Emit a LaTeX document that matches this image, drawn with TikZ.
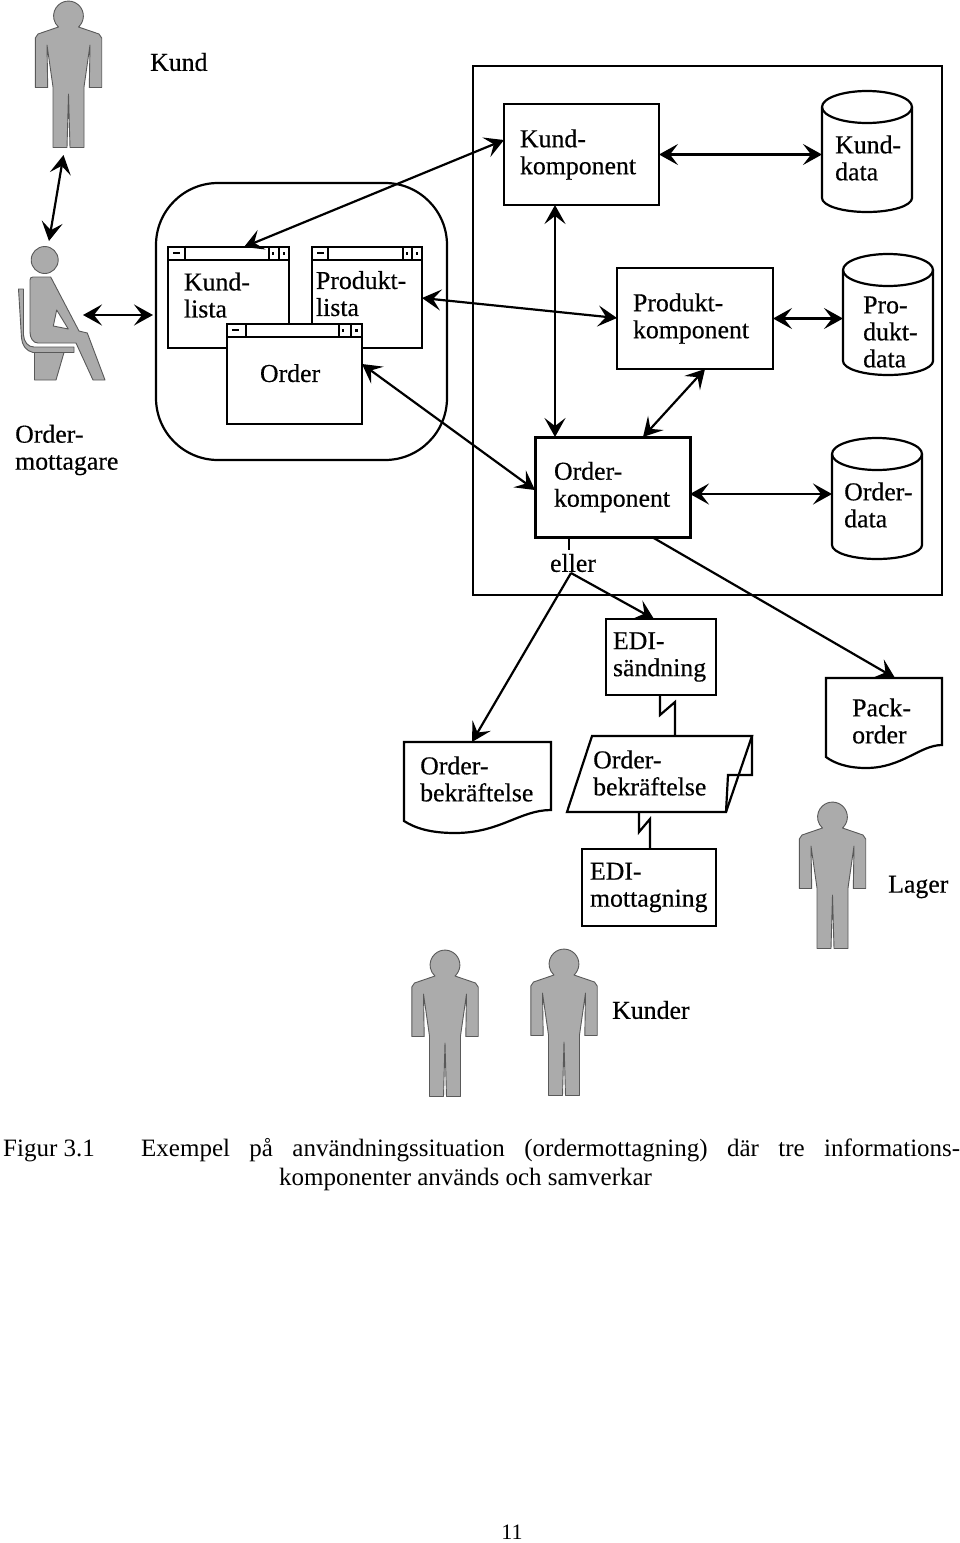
\documentclass[tikz,border=0pt]{standalone}
\usepackage{fontspec}
\setmainfont{Liberation Serif}
\newfontfamily\lblfont[FakeBold=0.4]{Liberation Serif}
\usetikzlibrary{calc,positioning,arrows.meta}

\tikzset{
  lbl/.style={inner sep=0pt, align=left, font=\lblfont\fontsize{25.8}{27}\selectfont},
  capt/.style={inner sep=0pt, font=\fontsize{25}{27}\selectfont},
  box/.style={draw, line width=2.2pt, fill=white, outer sep=0pt, lbl, inner xsep=#1pt},
  shapebase/.style={inner sep=0pt, outer sep=0pt, anchor=north west},
  line/.style={line width=2.2pt, line join=miter},
  arr/.style={{Stealth[length=19pt,width=21pt,inset=8pt]}-{Stealth[length=19pt,width=21pt,inset=8pt]}, line width=2.2pt},
  onearr/.style={-{Stealth[length=19pt,width=21pt,inset=8pt]}, line width=2.2pt},
  pers/.style={draw=black!65, line width=0.9pt, fill=black!33, line join=round},
  persona/.pic={
    \draw[pers] (10,26) arc[start angle=47.7, end angle=-227.7, radius=14.9]
      -- (-30.5,33) -- (-33.2,37) -- (-33.2,86.5) -- (-20.8,86.5) -- (-21.5,44) -- (-15.5,86)
      -- (-15.5,146.5) -- (-1.5,146.5) -- (0,93) -- (1.5,146.5) -- (15.5,146.5) -- (15.5,86)
      -- (21.5,44) -- (20.8,86.5) -- (33.2,86.5) -- (33.2,37) -- (30.5,33) -- cycle;
  }
}

% title bar of a window: name, close box, the two right boxes
\newcommand{\winbar}[4]{
  \draw[line] ([yshift=-13pt]#1.north west) -- ([yshift=-13pt]#1.north east);
  \draw[line] ([xshift=#2pt]#1.north west) -- ++(0,13);
  \draw[line] ([xshift=-#3pt]#1.north east) -- ++(0,13);
  \draw[line] ([xshift=-#4pt]#1.north east) -- ++(0,13);
  \draw[line] ([xshift=5pt,yshift=-6pt]#1.north west) -- ++(7,0);
  \draw[line] ([xshift=-#3pt+4pt,yshift=-5pt]#1.north east) -- ++(0,3);
  \draw[line] ([xshift=-#4pt*0.5,yshift=-5pt]#1.north east) -- ++(0,3);
}
% a data store drawn over its node
\newcommand{\cylshape}[1]{
  \draw[line] ([yshift=-16pt]#1.north west) arc[start angle=180, end angle=0, x radius=45pt, y radius=16pt]
    -- ([yshift=14pt]#1.south east) arc[start angle=0, end angle=-180, x radius=45pt, y radius=14pt] -- cycle;
  \draw[line] ([yshift=-16pt]#1.north west) arc[start angle=180, end angle=360, x radius=45pt, y radius=16pt];
}
% moves the text of a box up by half of #1
\newcommand{\lift}[1]{\rule[-#1pt]{0pt}{0pt}}

\begin{document}
\begin{tikzpicture}[x=1pt,y=-1pt]
  \useasboundingbox (0,0) rectangle (960,1543);

  % persons
  \pic at (68.5,1) {persona};
  \pic at (832.5,802) {persona};
  \pic at (445,950) {persona};
  \pic at (564,949) {persona};
  \draw[pers] (34.5,352.5) -- (64,352.5) -- (56,380) -- (34.5,380) -- cycle;
  \draw[pers] (18.5,289) -- (23.5,289) -- (23.5,335) .. controls (24,342) and (28,347) .. (34,347) -- (74,347)
    -- (74,352.5) -- (33,352.5) .. controls (26,351) and (22,345) .. (21.5,338) -- cycle;
  \draw[pers] (33,277) -- (50.7,277) -- (79,331) -- (87.3,333) -- (105,380) -- (93,380) -- (76,343) -- (38,343)
    .. controls (33,343) and (30,338) .. (30,332) -- (30,280) .. controls (30,278) and (31,277) .. (33,277) -- cycle;
  \draw[pers, fill=white] (56.7,310) -- (68.3,329) -- (53.3,326) -- cycle;
  \draw[pers] (44.7,260) circle[radius=13.5];
  \coordinate (kundfoot) at (63.5,155);
  \coordinate (ordmhead) at (49,241);
  \coordinate (ordmknee) at (83,315);
  \draw[arr] (kundfoot) -- (ordmhead);

  \node[lbl, anchor=west] (kundtxt) at (150,62) {Kund};
  \node[lbl, anchor=west] (ordmtxt) at (15,450) {Order-\\mottagare};
  \node[lbl, anchor=west] (lagertxt) at (888,887) {Lager};
  \node[lbl, anchor=west] (kundertxt) at (612,1010) {Kunder};

  % the screen with its windows
  \node[draw, line width=2.2pt, rounded corners=62pt, minimum width=291pt, minimum height=277pt, shapebase] (screen) at (156,183) {};
  \node[box=16, text width=89pt, minimum height=101pt, anchor=north west] (kundlista) at (168,247) {Kund-\\lista\lift{5}};
  \node[box=4, text width=102pt, minimum height=101pt, right = 23pt of kundlista] (prodlista) {Produkt-\\lista\lift{8}};
  \node[box=33, text width=69pt, minimum height=100pt, anchor=north west] (orderwin) at (227,324) {Order\lift{2}};
  \winbar{kundlista}{17}{20}{10}
  \winbar{prodlista}{16}{19}{10}
  \winbar{orderwin}{19}{23}{11}
  \draw[arr] (ordmknee) -- ([xshift=-3pt]ordmknee -| screen.west);

  % the system
  \node[draw, line width=2.2pt, minimum width=469pt, minimum height=529pt, shapebase] (sysbox) at (473,66) {};
  \node[box=16, text width=123pt, minimum height=101pt, below right = 38pt and 31pt of sysbox.north west] (kundkomp) {Kund-\\komponent};
  \node[box=16, text width=124pt, minimum height=101pt, below right = 63pt and 113pt of kundkomp.south west] (prodkomp) {Produkt-\\komponent};
  \node[box=19, text width=117pt, minimum height=100pt, line width=3pt, below right = 68pt and -82pt of prodkomp.south west] (ordkomp) {Order-\\komponent\lift{4}};
  \node[shapebase, minimum width=90pt, minimum height=121pt] (kunddata) at (822,91) {};
  \node[shapebase, minimum width=90pt, minimum height=121pt] (proddata) at (843,254) {};
  \node[shapebase, minimum width=90pt, minimum height=121pt] (orddata) at (832,438) {};
  \cylshape{kunddata}
  \cylshape{proddata}
  \cylshape{orddata}
  \node[lbl, anchor=west] (kunddatatxt) at (835,158) {Kund-\\data};
  \node[lbl, anchor=west] (proddatatxt) at (863,332) {Pro-\\dukt-\\data};
  \node[lbl, anchor=west] (orddatatxt) at (844,505) {Order-\\data};

  \draw[arr] ([yshift=-36pt]kundkomp.north west) -- ([xshift=76pt]kundlista.north west);
  \draw[arr] ([yshift=-50pt]prodkomp.north west) -- ([yshift=-51pt]prodlista.north east);
  \draw[arr] ([yshift=-53pt]ordkomp.north west) -- ([yshift=-40pt]orderwin.north east);
  \draw[arr] ([xshift=51pt]kundkomp.south west) -- ([xshift=20pt]ordkomp.north west);
  \draw[arr] ([xshift=88pt]prodkomp.south west) -- ([xshift=108pt]ordkomp.north west);
  \draw[arr] (kundkomp.east) -- (kundkomp.east -| kunddata.west);
  \draw[arr] (prodkomp.east) -- (prodkomp.east -| proddata.west);
  \draw[arr] ([yshift=-7pt]ordkomp.east) -- ([yshift=-7pt]ordkomp.east -| orddata.west);

  % out of the system
  \node[lbl, anchor=center] (eller) at (573,563) {eller};
  \coordinate (ellerfork) at (571,573);
  \draw[line] ([xshift=34pt]ordkomp.south west) -- ++(0,13);

  \node[box=7, text width=96pt, minimum height=76pt, anchor=north west] (edisend) at (606,619) {EDI-\\sändning\lift{2}};
  \node[box=8, text width=118pt, minimum height=77pt, anchor=north west] (edirecv) at (582,849) {EDI-\\mottagning\lift{4}};
  \node[shapebase, minimum width=147pt, minimum height=68pt] (orddoc) at (404,742) {};
  \node[shapebase, minimum width=116pt, minimum height=67pt] (packdoc) at (826,678) {};
  \node[shapebase, minimum width=185pt, minimum height=76pt] (ordpara) at (567,736) {};
  \draw[line] (orddoc.north west) -- (orddoc.north east) -- (orddoc.south east)
    .. controls ([xshift=-31pt]orddoc.south east) and ([xshift=-51pt,yshift=-23pt]orddoc.south east)
    .. ([xshift=-96pt,yshift=-23pt]orddoc.south east)
    .. controls ([xshift=-121pt,yshift=-23pt]orddoc.south east) and ([xshift=-136pt,yshift=-18pt]orddoc.south east)
    .. ([xshift=-147pt,yshift=-11pt]orddoc.south east) -- cycle;
  \draw[line] (packdoc.north west) -- (packdoc.north east) -- (packdoc.south east)
    .. controls ([xshift=-22pt]packdoc.south east) and ([xshift=-40pt,yshift=-23pt]packdoc.south east)
    .. ([xshift=-76pt,yshift=-23pt]packdoc.south east)
    .. controls ([xshift=-95pt,yshift=-23pt]packdoc.south east) and ([xshift=-108pt,yshift=-18pt]packdoc.south east)
    .. ([xshift=-116pt,yshift=-12pt]packdoc.south east) -- cycle;
  \draw[line] (ordpara.south west) -- ([xshift=25pt]ordpara.north west) -- (ordpara.north east)
    -- ([xshift=-26pt]ordpara.south east) -- cycle;
  \draw[line] (ordpara.north east) -- ++(0,39) -- ++(-24,0) -- ([xshift=-26pt]ordpara.south east);
  \node[lbl, anchor=west] (orddoctxt) at (420,779) {Order-\\bekräftelse};
  \node[lbl, anchor=west] (packdoctxt) at (852,721) {Pack-\\order};
  \node[lbl, anchor=west] (ordparatxt) at (593,773) {Order-\\bekräftelse};

  \draw[onearr] (ellerfork) -- ([xshift=48pt]edisend.north west);
  \draw[onearr] (ellerfork) -- ([xshift=68pt]orddoc.north west);
  \draw[onearr] ([xshift=117pt]ordkomp.south west) -- ([xshift=69pt]packdoc.north west);
  \draw[line] ([xshift=54pt]edisend.south west) -- ++(0,20) -- ++(15,-13) -- ([xshift=108pt]ordpara.north west);
  \draw[line] ([xshift=72pt]ordpara.south west) -- ++(0,20) -- ++(11,-13) -- ([xshift=68pt]edirecv.north west);

  % caption
  \node[capt, anchor=base west] (capnum) at (3,1156) {Figur 3.1};
  \node[capt, anchor=base west] (capline) at (141,1156) {\makebox[819pt][s]{Exempel på användningssituation (ordermottagning) där tre informations-}};
  \node[capt, anchor=base west] (capnext) at (279,1185) {komponenter används och samverkar};
  \node[capt, anchor=base, font=\fontsize{22}{24}\selectfont] (pagenum) at (512,1539) {11};
\end{tikzpicture}
\end{document}
